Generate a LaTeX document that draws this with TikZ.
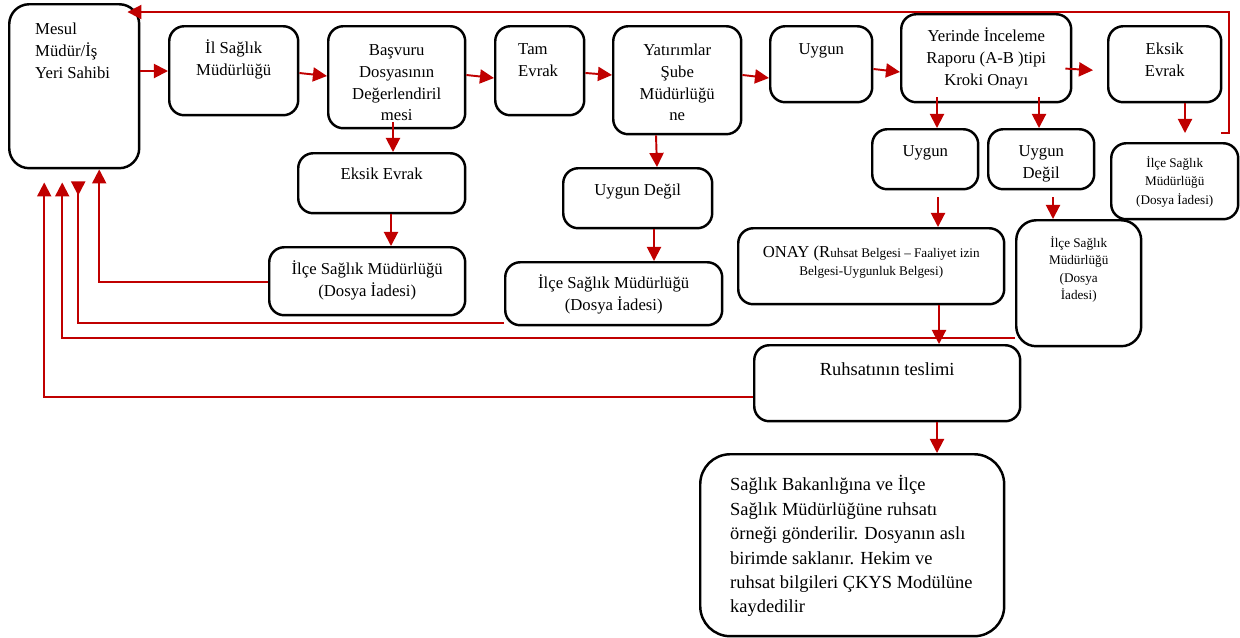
\documentclass[tikz,border=0pt]{standalone}
\usepackage{fontspec}
\setmainfont{Liberation Serif}
\usetikzlibrary{arrows.meta}

\definecolor{flowred}{RGB}{192,0,0}

% width, height, top gap, text
\newcommand{\boxtext}[4]{%
  \begin{minipage}[c][#2][t]{#1}\centering\vspace*{#3}\strut #4\end{minipage}}

\tikzset{
  box/.style={draw, line width=1.4pt, rounded corners=0.3cm, inner sep=0pt,
    anchor=north west, font=\fontsize{9.5}{12.5}\selectfont},
  small/.style={font=\fontsize{7.5}{10.5}\selectfont},
  big/.style={font=\fontsize{10.5}{13.9}\selectfont},
  flow/.style={draw=flowred, line width=1.1pt, -{Triangle[length=8pt,width=8pt]}},
  back/.style={draw=flowred, line width=1.1pt, -{Triangle[length=8pt,width=8pt,reversed]}},
}

\begin{document}
\begin{tikzpicture}[x=0.02cm, y=-0.02cm]
      \useasboundingbox (0,0) rectangle (1240,637);

      % 'mesul'
      \node[box, rounded corners=0.4cm] at (8,3) (mesul)
        {\boxtext{2.6cm}{3.28cm}{0.29cm}{\raggedright\leftskip=0.52cm Mesul\\Müdür/İş\\Yeri Sahibi}};

      % top row
      \node[box] at (168,25) (il) {\boxtext{2.58cm}{1.78cm}{0.23cm}{İl Sağlık\\Müdürlüğü}};
      \node[box] at (327,25) (basvuru)
        {\boxtext{2.74cm}{2.04cm}{0.27cm}{Başvuru\\Dosyasının\\Değerlendiril\\mesi}};
      \node[box] at (494,25) (tam)
        {\boxtext{1.78cm}{1.78cm}{0.25cm}{\raggedright\leftskip=0.46cm Tam\\Evrak}};
      \node[box] at (612,25) (yatirim)
        {\boxtext{2.56cm}{2.16cm}{0.27cm}{Yatırımlar\\Şube\\Müdürlüğü\\ne}};
      \node[box] at (769,25) (uygunA) {\boxtext{2.04cm}{1.52cm}{0.25cm}{Uygun}};
      \node[box] at (900,13) (yerinde)
        {\boxtext{3.4cm}{1.76cm}{0.23cm}{Yerinde İnceleme\\Raporu (A-B )tipi\\Kroki Onayı}};
      \node[box] at (1107,25) (eksikR) {\boxtext{2.26cm}{1.52cm}{0.25cm}{Eksik\\Evrak}};

      % 'uygun' / 'uygun degil'
      \node[box] at (871,128) (uygunB) {\boxtext{2.12cm}{1.2cm}{0.23cm}{Uygun}};
      \node[box] at (987,128) (degilB) {\boxtext{2.12cm}{1.2cm}{0.23cm}{Uygun\\Değil}};
      \node[box, small] at (1110,142) (ilceRT)
        {\boxtext{2.54cm}{1.52cm}{0.22cm}{İlçe Sağlık\\Müdürlüğü\\(Dosya İadesi)}};

      % 'eksik evrak'
      \node[box] at (297,152) (eksikM) {\boxtext{3.34cm}{1.2cm}{0.21cm}{Eksik Evrak}};
      \node[box] at (268,246) (ilceL)
        {\boxtext{3.92cm}{1.36cm}{0.23cm}{İlçe Sağlık Müdürlüğü\\(Dosya İadesi)}};

      \node[box] at (562,167) (degilM) {\boxtext{2.98cm}{1.2cm}{0.23cm}{Uygun Değil}};
      \node[box] at (504,261) (ilceM)
        {\boxtext{4.34cm}{1.26cm}{0.21cm}{İlçe Sağlık Müdürlüğü\\(Dosya İadesi)}};

      % 'onay'
      \node[box, font=\fontsize{7.5}{10.8}\selectfont] at (737,227) (onay)
        {\boxtext{5.32cm}{1.52cm}{0.31cm}{{\fontsize{9.5}{10.8}\selectfont ONAY (R}uhsat Belgesi -- Faaliyet izin\\Belgesi-Uygunluk Belgesi)}};
      \node[box, rounded corners=0.4cm, font=\fontsize{7.5}{10}\selectfont] at (1015,219) (ilceRB)
        {\boxtext{2.5cm}{2.52cm}{0.29cm}{İlçe Sağlık\\Müdürlüğü\\(Dosya\\İadesi)}};

      % 'ruhsat'
      \node[box, big] at (753,344) (ruhsat) {\boxtext{5.32cm}{1.52cm}{0.27cm}{Ruhsatının teslimi}};
      \node[box, big, rounded corners=0.6cm] at (699,453) (saglik)
        {\boxtext{6.08cm}{3.64cm}{0.39cm}{\raggedright\leftskip=0.6cm Sağlık Bakanlığına ve İlçe\\Sağlık Müdürlüğüne ruhsatı\\örneği gönderilir. Dosyanın aslı\\birimde saklanır. Hekim ve\\ruhsat bilgileri ÇKYS Modülüne\\kaydedilir}};

      % forward arrows
      \draw[flow] (mesul.east |- 0,71) -- (il.west |- 0,71);
      \draw[flow] (il.east |- 0,73) -- (basvuru.west |- 0,76);
      \draw[flow] (basvuru.east |- 0,75) -- (tam.west |- 0,78);
      \draw[flow] (tam.east |- 0,73) -- (yatirim.west |- 0,75);
      \draw[flow] (yatirim.east |- 0,75) -- (uygunA.west |- 0,78);
      \draw[flow] (uygunA.east |- 0,69) -- (yerinde.west |- 0,72);
      \draw[flow, shorten <=-0.14cm, shorten >=0.28cm] (yerinde.east |- 0,69) -- (eksikR.west |- 0,71);

      \draw[flow, shorten <=-0.14cm] (basvuru.south -| 393,0) -- (eksikM.north -| 393,0);
      \draw[flow] (eksikM.south -| 391,0) -- (ilceL.north -| 391,0);
      \draw[flow] (yatirim.south -| 656,0) -- (degilM.north -| 657,0);
      \draw[flow] (degilM.south -| 654,0) -- (ilceM.north -| 654,0);
      \draw[flow, shorten <=-0.12cm] (yerinde.south -| 937,0) -- (uygunB.north -| 937,0);
      \draw[flow, shorten <=-0.12cm] (yerinde.south -| 1039,0) -- (degilB.north -| 1039,0);
      \draw[flow, shorten >=0.18cm] (eksikR.south -| 1185,0) -- (ilceRT.north -| 1185,0);
      \draw[flow, shorten <=0.14cm] (uygunB.south -| 938,0) -- (onay.north -| 938,0);
      \draw[flow, shorten <=0.14cm] (degilB.south -| 1053,0) -- (ilceRB.north -| 1053,0);
      \draw[flow] (onay.south -| 939,0) -- (ruhsat.north -| 939,0);
      \draw[flow] (ruhsat.south -| 937,0) -- (saglik.north -| 937,0);

      % back to 'mesul'
      \coordinate (loopend) at (1221,133);
      \draw[flow, shorten >=-0.26cm] (loopend) -- ++(8,0) |- (mesul.north east |- 0,12);
      \draw[flow] (ilceL.west |- 0,282) -| ([xshift=0.5cm]mesul.south);
      \draw[back] (ilceM.west |- 0,323) -| ([xshift=0.08cm,yshift=-0.24cm]mesul.south);
      \draw[flow] (ilceRB.west |- 0,338) -| ([xshift=-0.24cm,yshift=-0.26cm]mesul.south);
      \draw[flow] (ruhsat.west |- 0,397) -| ([xshift=-0.6cm,yshift=-0.26cm]mesul.south);
    \end{tikzpicture}
\end{document}
